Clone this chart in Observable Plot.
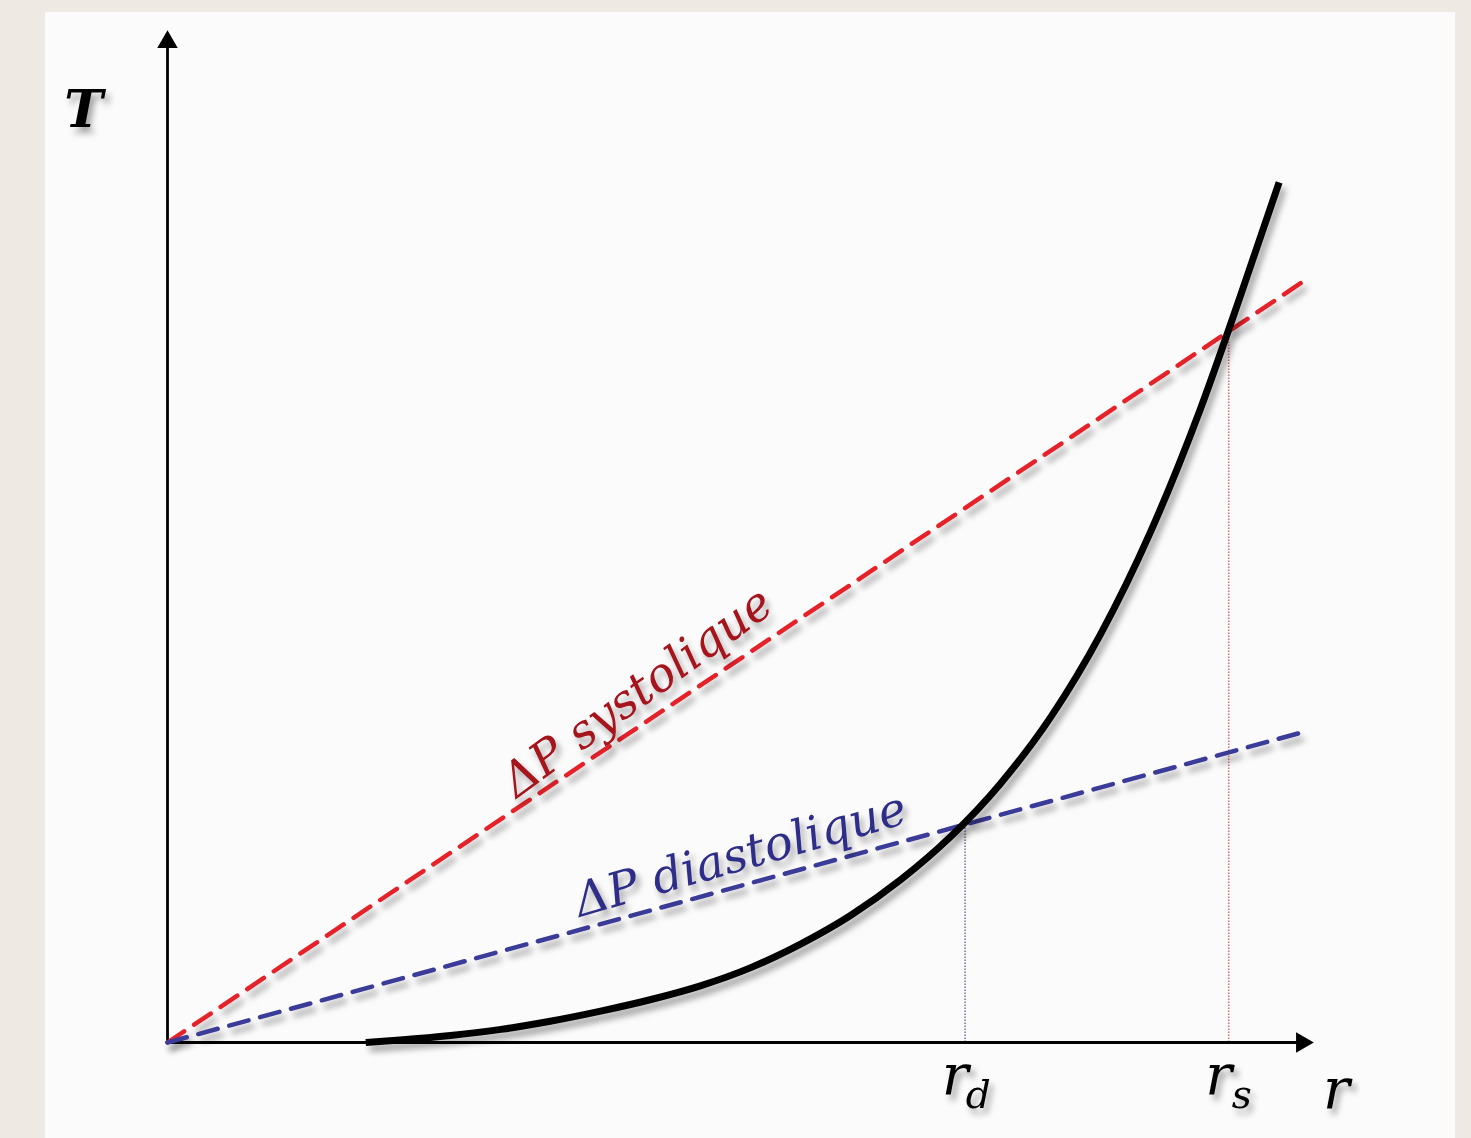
<!DOCTYPE html>
<html><head><meta charset="utf-8">
<script src="https://cdn.jsdelivr.net/npm/d3@7"></script>
<script src="https://cdn.jsdelivr.net/npm/@observablehq/plot@0.6"></script>
<style>
html,body{margin:0;padding:0;background:#eeeae3;}
#page{position:relative;width:1471px;height:1138px;overflow:hidden;background:#eeeae3;}
#panel{position:absolute;left:45px;top:12px;width:1410px;height:1126px;background:#fbfbfb;}
#chart{position:absolute;left:0;top:0;}
</style></head><body>
<div id="page"><div id="panel"></div><div id="chart"></div></div>
<script>
// Tension curve T(r)
const curveR = [17.3, 20.3, 24.7, 29.1, 33.4, 37.8, 42.2, 46.5, 50.9, 55.2, 59.6, 64.0, 68.3, 72.7, 77.1, 81.4, 85.8, 90.1, 93.6, 97.0];
const curveT = [0.0, 0.25, 0.7, 1.3, 2.1, 3.1, 4.25, 5.6, 7.4, 9.7, 12.55, 16.1, 20.3, 25.6, 32.2, 40.3, 50.5, 62.5, 73.7, 85.0];
// Pressure lines (Laplace) from origin
const systoliqueR = [0, 99.5];
const systoliqueT = [0, 75.5];
const diastoliqueR = [0, 99.5];
const diastoliqueT = [0, 30.8];
// Equilibrium radii
const eqR = [69.6, 92.6];
const eqT = [21.6, 70.2];
const eqColors = ["#7c7c9c", "#d9707e"];
const tickMain = ["r", "r"];
const tickSub = ["d", "s"];
// Axes
const axisEnd = [100, 100];
const axisLabels = ["T", "r"];
const lineLabels = ["ΔP systolique", "ΔP diastolique"];
const lineLabelR = [41.0, 50.0];
const lineLabelT = [34.6, 18.5];

const curve = curveR.map((r, i) => ({r, t: curveT[i]}));
const sys = systoliqueR.map((r, i) => ({r, t: systoliqueT[i]}));
const dia = diastoliqueR.map((r, i) => ({r, t: diastoliqueT[i]}));
const eq = eqR.map((r, i) => ({r, t: eqT[i], c: eqColors[i], m: tickMain[i], s: tickSub[i]}));

const serif = "'DejaVu Serif', 'Liberation Serif', serif";

const chart = Plot.plot({
  width: 1471,
  height: 1138,
  marginLeft: 167,
  marginRight: 158,
  marginTop: 30,
  marginBottom: 96,
  style: {background: "transparent", overflow: "visible"},
  x: {domain: [0, axisEnd[0]], axis: null},
  y: {domain: [0, axisEnd[1]], axis: null},
  marks: [
    // dotted verticals
    Plot.ruleX(eq, {x: "r", y1: 0, y2: "t", stroke: "c", strokeWidth: 1.6, strokeDasharray: "1.5,1.5"}),
    // axes
    Plot.ruleX([0], {y1: 0, y2: axisEnd[1] - 1.5, stroke: "black", strokeWidth: 2.8}),
    Plot.ruleY([0], {x1: 0, x2: axisEnd[0] - 1.2, stroke: "black", strokeWidth: 2.8}),
    Plot.dot([{x: 0, y: axisEnd[1]}], {x: "x", y: "y", symbol: "triangle", r: 7.6, fill: "black", stroke: "none", dy: 11.5}),
    Plot.dot([{x: axisEnd[0], y: 0}], {x: "x", y: "y", symbol: "triangle", r: 7.6, fill: "black", stroke: "none", rotate: 90, dx: -11.5}),
    // pressure lines
    Plot.line(sys, {x: "r", y: "t", stroke: "#e5232a", strokeWidth: 4.5, strokeDasharray: "20,12"}),
    Plot.line(dia, {x: "r", y: "t", stroke: "#3a3a98", strokeWidth: 4.5, strokeDasharray: "20,12"}),
    // tension curve
    Plot.line(curve, {x: "r", y: "t", stroke: "black", strokeWidth: 7, curve: "monotone-x", strokeLinecap: "butt"}),
    // line labels
    Plot.text([0], {x: lineLabelR[0], y: lineLabelT[0], text: () => lineLabels[0], rotate: -36, fill: "#a5121c",
      fontSize: 47, fontStyle: "italic", fontFamily: serif}),
    Plot.text([0], {x: lineLabelR[1], y: lineLabelT[1], text: () => lineLabels[1], rotate: -16, fill: "#2e2e88",
      fontSize: 47, fontStyle: "italic", fontFamily: serif}),
    // tick labels r_d, r_s
    Plot.text(eq, {x: "r", y: 0, text: "m", dx: -10, dy: 51, lineAnchor: "bottom", fontSize: 56, fontStyle: "italic", fontFamily: serif, fill: "black"}),
    Plot.text(eq, {x: "r", y: 0, text: "s", dx: 13, dy: 65, lineAnchor: "bottom", fontSize: 39, fontStyle: "italic", fontFamily: serif, fill: "black"}),
    // axis labels
    Plot.text([0], {x: 0, y: axisEnd[1], text: () => axisLabels[0], dx: -84, dy: 96, lineAnchor: "bottom", fontSize: 52, fontStyle: "italic", fontWeight: "bold", fontFamily: serif, fill: "black"}),
    Plot.text([0], {x: axisEnd[0], y: 0, text: () => axisLabels[1], dx: 23, dy: 65, lineAnchor: "bottom", fontSize: 56, fontStyle: "italic", fontFamily: serif, fill: "black"})
  ]
});

document.getElementById("chart").appendChild(chart);

// soft drop shadows like the reference
const svg = d3.select(chart);
svg.insert("defs", ":first-child").html(
  '<filter id="sh" x="-20%" y="-20%" width="140%" height="140%">' +
  '<feDropShadow dx="4" dy="6" stdDeviation="3" flood-color="#000" flood-opacity="0.35"/></filter>');
svg.selectAll('g[aria-label="line"], g[aria-label="text"]').attr("filter", "url(#sh)");
</script>
</body></html>
